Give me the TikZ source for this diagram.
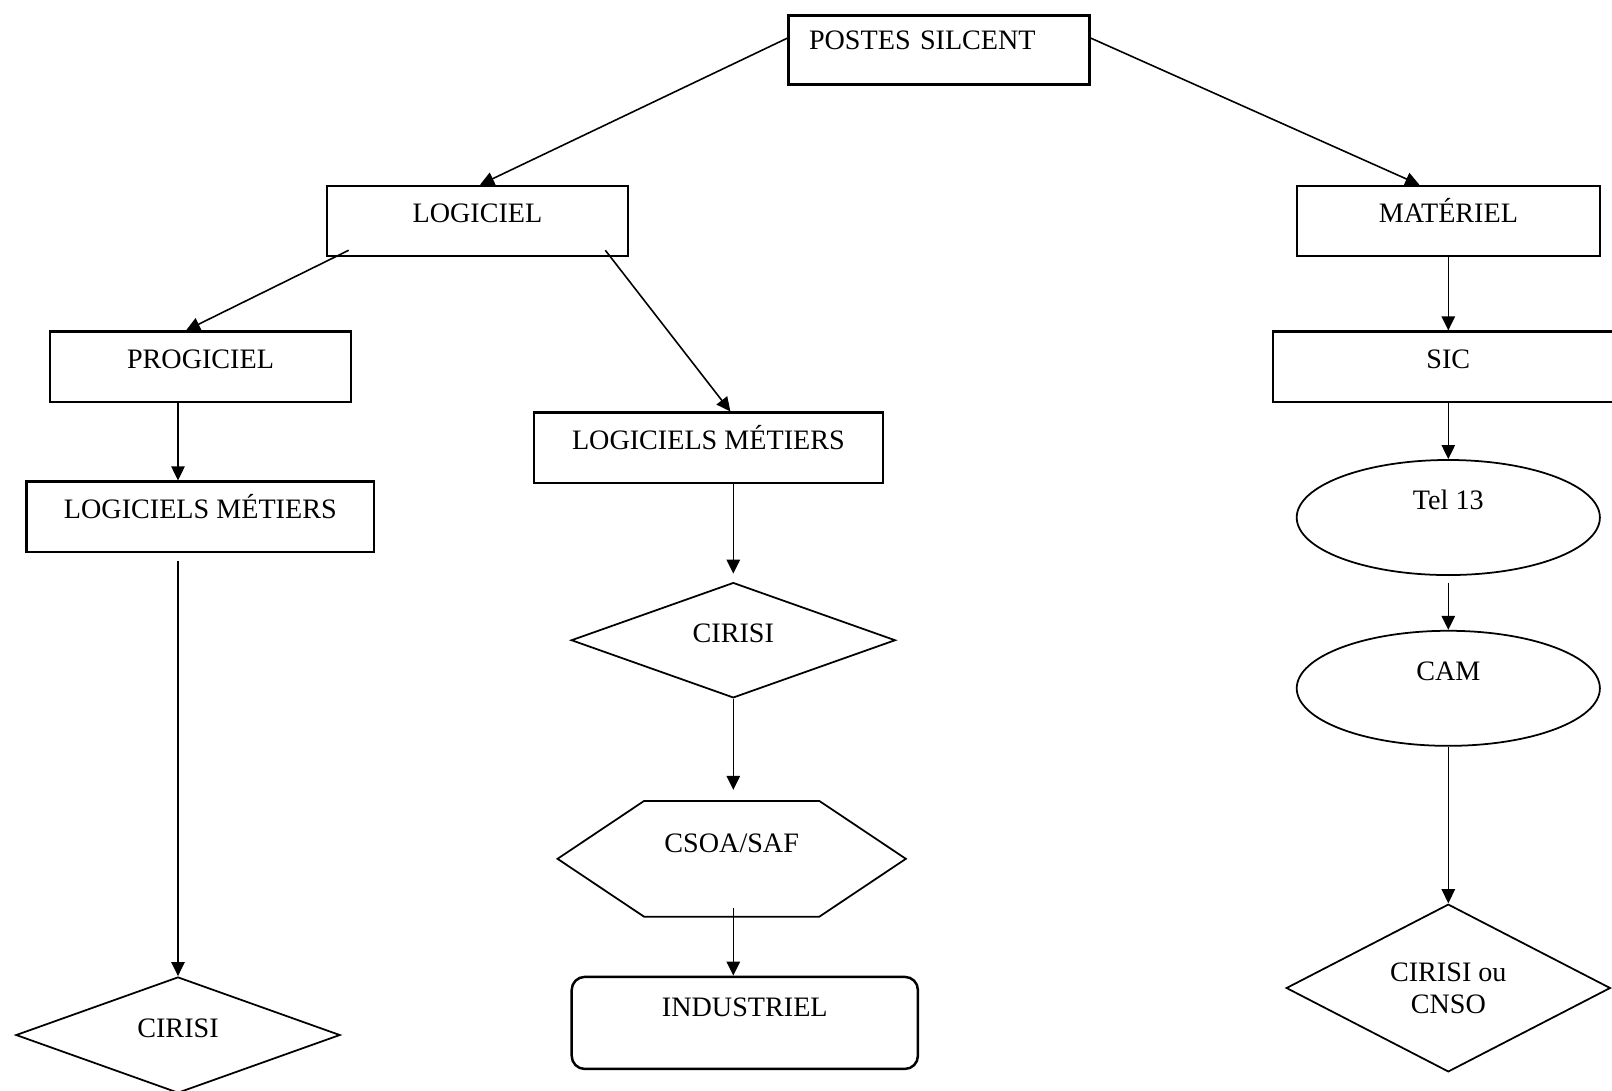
\documentclass[tikz,border=0pt]{standalone}
\usepackage{fontspec}
\setmainfont{Liberation Serif}
\usepackage{tikz}
\usetikzlibrary{shapes.geometric,arrows.meta}

\begin{document}
\begin{tikzpicture}[x=0.01cm, y=-0.01cm,
		every node/.style={font=\fontsize{8}{9.2}\selectfont},
		boite/.style={draw, line width=0.7pt, inner xsep=0pt, inner ysep=0pt, minimum height=0.7cm, text height=0.365cm, text depth=0.335cm},
		ovale/.style={draw, ellipse, line width=0.5pt, inner sep=0pt, minimum width=3.03cm, minimum height=1.15cm, text height=0.19cm, text depth=0.345cm},
		losange/.style={draw, diamond, line width=0.5pt, inner sep=0pt, minimum width=3.24cm},
		fleche/.style={line width=0.45pt, -{Triangle[length=4pt,width=3.8pt]}}]
			\useasboundingbox (0,0) rectangle (1612,1090);
			\clip (0,0) rectangle (1612,1090);

			% Draw the boxes
			\node[boite, text width=2.6cm, align=left, inner xsep=0.205cm, minimum height=0.69cm, text height=0.34cm, text depth=0.35cm] (postes) at (939.1,49.9) {POSTES SILCENT};
			\node[boite, minimum width=3.01cm] (logiciel) at (477.5,221) {LOGICIEL};
			\node[boite, minimum width=3.03cm] (materiel) at (1448.4,221) {MATÉRIEL};
			\node[boite, minimum width=3.01cm] (progiciel) at (200.5,366.7) {PROGICIEL};
			\node[boite, minimum width=3.50cm] (sic) at (1448.3,366.7) {SIC};
			\node[boite, minimum width=3.49cm] (metiersM) at (708.4,447.7) {LOGICIELS MÉTIERS};
			\node[boite, minimum width=3.47cm] (metiersG) at (200.3,516.7) {LOGICIELS MÉTIERS};
			\node[boite, rounded corners=0.13cm, minimum width=3.46cm, minimum height=0.92cm, text height=0.395cm, text depth=0.525cm] (industriel) at (744.8,1022.9) {INDUSTRIEL};

			% Draw the ellipses
			\node[ovale] (tel) at (1448.3,517.5) {Tel 13};
			\node[ovale] (cam) at (1448.3,688.3) {CAM};

			% Draw the diamonds
			\node[losange, minimum height=1.15cm, text height=0.19cm, text depth=0.15cm] (cirisiM) at (733.3,640.2) {CIRISI};
			\node[losange, minimum height=1.16cm, text height=0.19cm, text depth=0.15cm] (cirisiG) at (178,1035) {CIRISI};
			\node[losange, minimum height=1.6cm, align=center] (cnso) at (1448.3,988) {CIRISI ou\\CNSO};

			% Draw the hexagon
			\node[minimum width=3.467cm, minimum height=1.143cm, inner sep=0pt, text height=0.19cm, text depth=0.32cm] (csoa) at (731.7,858.8) {CSOA/SAF};
			\draw[line width=0.5pt] (csoa.west) -- ([xshift=0.865cm]csoa.north west) -- ([xshift=-0.865cm]csoa.north east) -- (csoa.east) -- ([xshift=-0.865cm]csoa.south east) -- ([xshift=0.865cm]csoa.south west) -- cycle;

			% Draw the arrows
			\draw[fleche] ([yshift=-0.24cm]postes.north west) -- ([xshift=0.025cm]logiciel.north);
			\draw[fleche] ([yshift=-0.24cm]postes.north east) -- ([xshift=-0.29cm]materiel.north);
			\draw[fleche] ([xshift=0.23cm,yshift=0.07cm]logiciel.south west) -- ([xshift=-0.145cm]progiciel.north);
			\draw[fleche] ([xshift=-0.24cm,yshift=0.07cm]logiciel.south east) -- ([xshift=0.22cm]metiersM.north);
			\draw[fleche] (progiciel.south -| cirisiG) -- (metiersG.north -| cirisiG);
			\draw[fleche, shorten <=0.08cm] (metiersG.south -| cirisiG) -- (cirisiG.north);
			\draw[fleche, shorten >=0.08cm] (metiersM.south -| cirisiM) -- (cirisiM.north);
			\draw[fleche, shorten >=0.11cm] (cirisiM.south) -- (csoa.north -| cirisiM);
			\draw[fleche] ([yshift=0.09cm]csoa.south -| cirisiM) -- (industriel.north -| cirisiM);
			\draw[fleche] (materiel.south -| sic) -- (sic.north);
			\draw[fleche] (sic.south) -- (tel.north);
			\draw[fleche, shorten <=0.07cm] (tel.south) -- (cam.north);
			\draw[fleche] (cam.south) -- (cnso.north);
		\end{tikzpicture}
\end{document}
